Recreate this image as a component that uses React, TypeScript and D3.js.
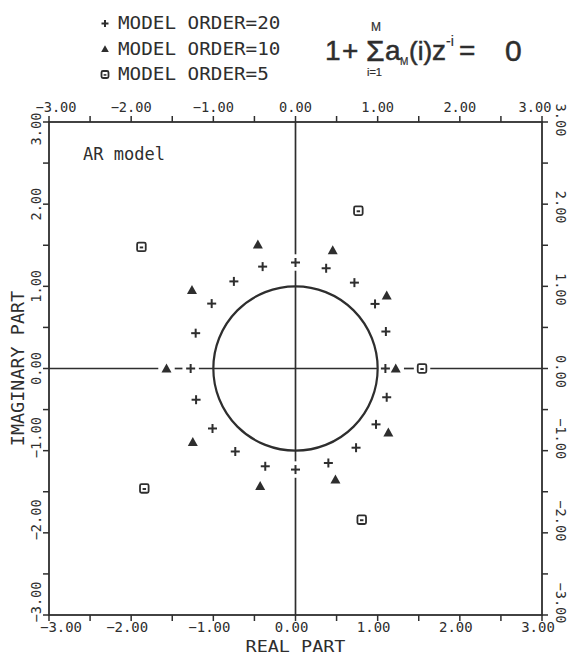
import React from 'react';
import * as d3 from 'd3';

// Roots: [real, imaginary]
const order20: [number, number][] = [
  [0.0, 1.29], [-0.4, 1.24], [-0.75, 1.06], [-1.02, 0.79], [-1.215, 0.43],
  [-1.276, 0.0], [-1.21, -0.38], [-1.01, -0.73], [-0.733, -1.01], [-0.368, -1.19],
  [0.0, -1.23], [0.4, -1.15], [0.737, -0.964], [0.98, -0.68], [1.11, -0.35],
  [1.094, 0.0], [1.1, 0.45], [0.968, 0.786], [0.717, 1.045], [0.373, 1.22],
];
const order10: [number, number][] = [
  [-0.458, 1.51], [0.453, 1.44], [-1.26, 0.956], [1.11, 0.887], [-1.57, 0.0],
  [1.22, 0.0], [-1.25, -0.895], [1.13, -0.78], [-0.43, -1.43], [0.486, -1.35],
];
const order5: [number, number][] = [
  [-1.875, 1.48], [0.765, 1.92], [1.54, 0.0], [-1.84, -1.46], [0.806, -1.84],
];
const legendLabels = ['MODEL ORDER=20', 'MODEL ORDER=10', 'MODEL ORDER=5'];
const minorTicks = [-3, -2.5, -2, -1.5, -1, -0.5, 0, 0.5, 1, 1.5, 2, 2.5, 3];
const labelTicks = [-3, -2, -1, 0, 1, 2, 3];
const xTitle = 'REAL PART';
const yTitle = 'IMAGINARY PART';
const note = 'AR model';

const INK = '#2e2e2e';
const MONO = '"DejaVu Sans Mono", monospace';

function segments(lo: number, hi: number, centers: number[], g: number): [number, number][] {
  const gaps = centers.map((c) => [c - g, c + g]).sort((a, b) => a[0] - b[0]);
  const out: [number, number][] = [];
  let cur = lo;
  for (const [a, b] of gaps) {
    if (a > cur) out.push([cur, Math.min(a, hi)]);
    cur = Math.max(cur, b);
  }
  if (cur < hi) out.push([cur, hi]);
  return out;
}

function Plus({ cx, cy, r }: { cx: number; cy: number; r: number }) {
  return (
    <g stroke={INK} strokeWidth={2}>
      <line x1={cx - r} y1={cy} x2={cx + r} y2={cy} />
      <line x1={cx} y1={cy - r} x2={cx} y2={cy + r} />
    </g>
  );
}
function Tri({ cx, cy, r }: { cx: number; cy: number; r: number }) {
  return <path d={`M${cx - r},${cy + r * 0.8}L${cx + r},${cy + r * 0.8}L${cx},${cy - r}Z`} fill={INK} />;
}
function Sq({ cx, cy, r }: { cx: number; cy: number; r: number }) {
  return (
    <g>
      <rect x={cx - r} y={cy - r} width={2 * r} height={2 * r} rx={1.5} fill="white" stroke={INK} strokeWidth={1.8} />
      <rect x={cx - r * 0.4} y={cy - r * 0.1} width={r * 0.8} height={r * 0.45} fill={INK} />
    </g>
  );
}

export default function App() {
  const W = 568, H = 657;
  const x = d3.scaleLinear().domain([-3, 3]).range([49, 542]);
  const y = d3.scaleLinear().domain([-3, 3]).range([615, 122]);
  const fmt = d3.format('.2f');
  const all = [...order20, ...order10, ...order5];
  const onReal = all.filter((p) => Math.abs(p[1]) < 0.12).map((p) => p[0]);
  const onImag = all.filter((p) => Math.abs(p[0]) < 0.12).map((p) => p[1]);
  const hSegs = segments(-3, 3, onReal, 0.1);
  const vSegs = segments(-3, 3, onImag, 0.1);
  const r = x(1) - x(0);

  const leftOffset = (v: number) => (v === 3 ? 7 : v === -3 ? -13 : v < 0 ? -13 : 0);
  const rightOffset = (v: number) => (v === 3 ? -2 : v === -3 ? -12 : v < 0 ? -12 : 3);

  return (
    <svg width={W} height={H} style={{ position: 'absolute', left: 0, top: 0, background: 'white' }}>
      <rect width={W} height={H} fill="white" />
      {/* legend */}
      {legendLabels.map((t, i) => {
        const by = 29 + i * 25.5;
        const my = by - 5.5;
        return (
          <g key={t}>
            {i === 0 && <Plus cx={105} cy={my} r={3.5} />}
            {i === 1 && <Tri cx={105} cy={my} r={3.8} />}
            {i === 2 && <Sq cx={105} cy={my} r={3.5} />}
            <text x={118} y={by} fontFamily={MONO} fontSize={17} fill={INK} textLength={t.length * 11.6} lengthAdjust="spacingAndGlyphs">{t}</text>
          </g>
        );
      })}
      {/* formula */}
      <g fontFamily='"Liberation Sans", Arial, sans-serif' fill={INK} stroke={INK} strokeWidth={0.5}>
        <text x={325} y={60} fontSize={28}>1</text>
        <text x={342} y={60} fontSize={28}>+</text>
        <text x={366} y={61} fontSize={30}>Σ</text>
        <text x={371} y={31} fontSize={12} strokeWidth={0.2}>M</text>
        <text x={367} y={76} fontSize={11} strokeWidth={0.2}>i=1</text>
        <text x={385} y={60} fontSize={28}>a</text>
        <text x={400} y={65} fontSize={10} strokeWidth={0.2}>M</text>
        <text x={409} y={60} fontSize={26}>(i)</text>
        <text x={432} y={60} fontSize={28}>z</text>
        <text x={446} y={46} fontSize={14} strokeWidth={0.2}>-i</text>
        <text x={459} y={60} fontSize={28}>=</text>
        <text x={505} y={61} fontSize={30}>0</text>
      </g>

      {/* frame */}
      <rect x={x(-3)} y={y(3)} width={x(3) - x(-3)} height={y(-3) - y(3)} fill="none" stroke={INK} strokeWidth={1.8} />
      {/* ticks */}
      {minorTicks.map((v) => (
        <g key={'t' + v} stroke={INK} strokeWidth={1.5}>
          <line x1={x(v)} x2={x(v)} y1={y(3)} y2={y(3) - 6} />
          <line x1={x(v)} x2={x(v)} y1={y(-3)} y2={y(-3) + 6} />
          <line y1={y(v)} y2={y(v)} x1={x(-3)} x2={x(-3) - 6} />
          <line y1={y(v)} y2={y(v)} x1={x(3)} x2={x(3) + 6} />
        </g>
      ))}
      {/* tick labels */}
      <g fontFamily={MONO} fontSize={13.5} fill={INK}>
        {labelTicks.map((v) => {
          const s = fmt(v);
          const dx = v === -3 ? 7 : v === 3 ? -7 : 0;
          return (
            <g key={'l' + v}>
              <text x={x(v) + dx} y={112} textAnchor="middle" textLength={s.length * 8.2} lengthAdjust="spacingAndGlyphs">{s}</text>
              <text x={x(v) + dx + (v === -3 ? 5 : v === 3 ? 3 : -4)} y={632} textAnchor="middle" textLength={s.length * 8.4} lengthAdjust="spacingAndGlyphs">{s}</text>
              <text transform={`translate(${41},${y(v) + leftOffset(v)}) rotate(-90)`} textAnchor="middle" textLength={s.length * 8.2} lengthAdjust="spacingAndGlyphs">{s}</text>
              <text transform={`translate(${556},${y(v) + rightOffset(v)}) rotate(90)`} textAnchor="middle" textLength={s.length * 8.2} lengthAdjust="spacingAndGlyphs">{s}</text>
            </g>
          );
        })}
      </g>
      {/* axis titles */}
      <text x={x(0)} y={652} textAnchor="middle" fontFamily={MONO} fontSize={16} fill={INK} textLength={xTitle.length * 11.1} lengthAdjust="spacingAndGlyphs">{xTitle}</text>
      <text transform={`translate(${24},${y(0)}) rotate(-90)`} textAnchor="middle" fontFamily={MONO} fontSize={18} fill={INK} textLength={yTitle.length * 11.1} lengthAdjust="spacingAndGlyphs">{yTitle}</text>
      <text x={83} y={160} fontFamily={MONO} fontSize={17} fill={INK} textLength={82} lengthAdjust="spacingAndGlyphs">{note}</text>

      {/* zero axes with gaps at markers */}
      {hSegs.map(([a, b], i) => (
        <line key={'h' + i} x1={x(a)} x2={x(b)} y1={y(0)} y2={y(0)} stroke={INK} strokeWidth={1.7} />
      ))}
      {vSegs.map(([a, b], i) => (
        <line key={'v' + i} x1={x(0)} x2={x(0)} y1={y(a)} y2={y(b)} stroke={INK} strokeWidth={1.7} />
      ))}
      {/* unit circle */}
      <circle cx={x(0)} cy={y(0)} r={r} fill="none" stroke={INK} strokeWidth={2.2} />

      {/* roots */}
      {order20.map(([re, im], i) => <Plus key={'p' + i} cx={x(re)} cy={y(im)} r={4.5} />)}
      {order10.map(([re, im], i) => <Tri key={'t' + i} cx={x(re)} cy={y(im)} r={5} />)}
      {order5.map(([re, im], i) => <Sq key={'s' + i} cx={x(re)} cy={y(im)} r={4.3} />)}
    </svg>
  );
}
